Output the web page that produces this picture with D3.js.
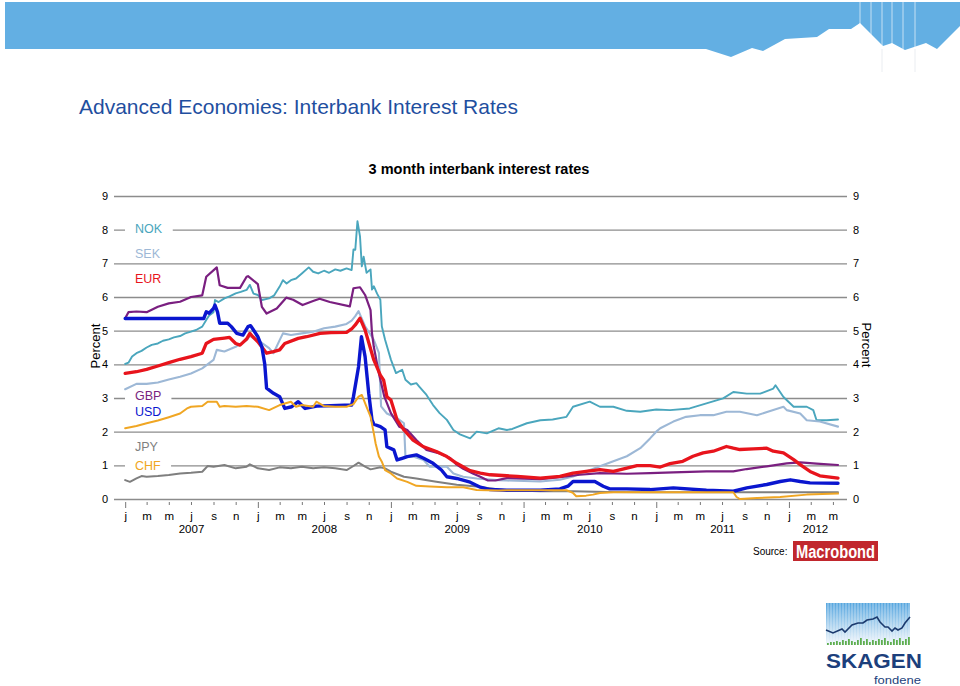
<!DOCTYPE html>
<html><head><meta charset="utf-8">
<script src="https://cdn.jsdelivr.net/npm/d3@7"></script>
<style>body{margin:0;background:#fff;} svg{display:block;font-family:"Liberation Sans",Arial,sans-serif;}</style>
</head><body><svg id="c" width="960" height="686"></svg>
<script>
// ---------- DATA (3 month interbank rates, percent) ----------
const NOK = [["2007-01-01",4.01],["2007-01-10",4.05],["2007-01-20",4.23],["2007-02-01",4.33],["2007-02-15",4.40],["2007-03-01",4.50],["2007-03-15",4.58],["2007-04-01",4.62],["2007-04-15",4.70],["2007-05-01",4.74],["2007-05-15",4.80],["2007-06-01",4.84],["2007-06-15",4.92],["2007-07-01",4.97],["2007-07-15",5.02],["2007-08-01",5.12],["2007-08-12",5.32],["2007-08-20",5.45],["2007-09-01",5.55],["2007-09-05",5.91],["2007-09-15",5.85],["2007-10-01",5.96],["2007-10-15",6.02],["2007-11-01",6.11],["2007-11-15",6.15],["2007-12-01",6.21],["2007-12-10",6.36],["2007-12-20",6.10],["2008-01-01",6.06],["2008-01-12",5.91],["2008-02-01",5.96],["2008-02-15",6.05],["2008-03-01",6.31],["2008-03-10",6.50],["2008-03-20",6.40],["2008-04-01",6.50],["2008-04-15",6.55],["2008-05-01",6.70],["2008-05-20",6.88],["2008-06-01",6.75],["2008-06-15",6.70],["2008-07-01",6.78],["2008-07-15",6.72],["2008-08-01",6.82],["2008-08-15",6.78],["2008-09-01",6.85],["2008-09-15",6.80],["2008-09-20",7.41],["2008-09-25",7.40],["2008-10-01",8.25],["2008-10-08",7.80],["2008-10-13",6.91],["2008-10-18",7.20],["2008-10-26",6.72],["2008-11-06",6.82],["2008-11-10",6.22],["2008-11-15",6.32],["2008-11-24",6.10],["2008-12-03",5.92],["2008-12-07",5.13],["2008-12-16",4.73],["2009-01-01",4.14],["2009-01-15",3.74],["2009-02-01",3.84],["2009-02-10",3.54],["2009-02-25",3.40],["2009-03-12",3.44],["2009-03-20",3.34],["2009-04-09",3.09],["2009-04-27",2.79],["2009-05-15",2.55],["2009-06-04",2.35],["2009-06-22",2.05],["2009-07-10",1.92],["2009-08-07",1.80],["2009-08-25",2.00],["2009-09-22",1.95],["2009-10-24",2.10],["2009-11-16",2.05],["2009-12-01",2.08],["2010-01-10",2.25],["2010-02-16",2.34],["2010-03-22",2.36],["2010-04-29",2.44],["2010-05-17",2.74],["2010-07-02",2.89],["2010-07-30",2.74],["2010-09-05",2.74],["2010-10-12",2.62],["2010-11-18",2.59],["2011-01-01",2.66],["2011-02-08",2.64],["2011-04-03",2.69],["2011-05-19",2.84],["2011-07-04",2.99],["2011-08-01",3.18],["2011-09-07",3.13],["2011-10-14",3.13],["2011-11-19",3.28],["2011-11-25",3.38],["2011-12-17",3.03],["2012-01-14",2.74],["2012-02-19",2.74],["2012-03-08",2.64],["2012-03-17",2.34],["2012-04-14",2.34],["2012-05-15",2.36]];

const SEK = [["2007-01-01",3.26],["2007-02-01",3.42],["2007-03-01",3.42],["2007-04-01",3.46],["2007-05-01",3.55],["2007-06-01",3.63],["2007-07-01",3.73],["2007-08-01",3.88],["2007-09-01",4.13],["2007-09-10",4.43],["2007-10-01",4.38],["2007-11-01",4.52],["2007-12-01",4.72],["2007-12-10",4.84],["2008-01-01",4.72],["2008-02-01",4.48],["2008-02-13",4.33],["2008-03-01",4.72],["2008-03-10",4.92],["2008-04-01",4.87],["2008-05-01",4.92],["2008-06-01",4.97],["2008-07-01",5.07],["2008-08-01",5.12],["2008-09-01",5.20],["2008-09-15",5.30],["2008-09-25",5.43],["2008-10-04",5.58],["2008-10-22",5.13],["2008-11-15",4.73],["2008-11-29",4.34],["2008-12-05",2.75],["2008-12-21",2.54],["2009-01-18",2.40],["2009-02-06",2.25],["2009-02-10",1.26],["2009-03-03",1.26],["2009-04-01",1.16],["2009-04-18",0.96],["2009-06-04",0.96],["2009-06-22",0.76],["2009-07-19",0.66],["2009-08-25",0.61],["2009-10-19",0.56],["2009-11-16",0.55],["2010-02-16",0.52],["2010-04-11",0.57],["2010-05-17",0.67],["2010-06-22",0.82],["2010-07-30",0.97],["2010-09-05",1.12],["2010-10-12",1.27],["2010-11-18",1.51],["2010-12-15",1.80],["2011-01-01",2.00],["2011-01-12",2.10],["2011-02-17",2.30],["2011-03-24",2.44],["2011-05-01",2.49],["2011-06-07",2.49],["2011-07-13",2.59],["2011-08-19",2.59],["2011-10-05",2.49],["2011-11-19",2.64],["2011-12-17",2.74],["2011-12-26",2.64],["2012-02-01",2.54],["2012-02-19",2.34],["2012-03-26",2.30],["2012-05-15",2.15]];

const EUR = [["2007-01-01",3.73],["2007-02-01",3.78],["2007-03-01",3.85],["2007-04-01",3.95],["2007-05-01",4.05],["2007-06-01",4.15],["2007-07-01",4.23],["2007-08-01",4.33],["2007-08-12",4.62],["2007-09-01",4.74],["2007-10-01",4.78],["2007-10-15",4.80],["2007-11-01",4.62],["2007-11-13",4.57],["2007-12-01",4.75],["2007-12-10",4.92],["2007-12-18",4.82],["2008-01-01",4.67],["2008-01-25",4.33],["2008-02-13",4.38],["2008-03-01",4.43],["2008-03-15",4.62],["2008-04-21",4.77],["2008-05-14",4.82],["2008-06-20",4.92],["2008-07-20",4.94],["2008-09-01",4.95],["2008-09-15",5.05],["2008-09-25",5.17],["2008-10-08",5.37],["2008-10-22",5.02],["2008-11-15",4.13],["2008-12-03",3.68],["2008-12-12",3.53],["2008-12-21",3.04],["2009-01-01",2.94],["2009-01-18",2.35],["2009-02-06",2.05],["2009-03-03",1.75],["2009-04-01",1.55],["2009-05-06",1.41],["2009-06-04",1.26],["2009-07-01",1.06],["2009-08-07",0.84],["2009-09-04",0.77],["2009-10-01",0.72],["2009-11-16",0.69],["2009-12-15",0.67],["2010-02-16",0.62],["2010-04-11",0.67],["2010-05-17",0.77],["2010-06-22",0.82],["2010-07-30",0.87],["2010-09-05",0.82],["2010-10-12",0.92],["2010-11-09",0.99],["2010-12-15",0.99],["2011-01-12",0.95],["2011-02-08",1.05],["2011-03-15",1.12],["2011-04-12",1.27],["2011-05-10",1.37],["2011-06-07",1.42],["2011-07-13",1.56],["2011-08-01",1.51],["2011-08-19",1.47],["2011-09-25",1.49],["2011-11-01",1.51],["2011-11-19",1.42],["2011-12-17",1.37],["2012-01-14",1.17],["2012-02-01",1.02],["2012-02-28",0.82],["2012-03-26",0.69],["2012-05-15",0.62]];

const GBP = [["2007-01-01",5.37],["2007-01-10",5.55],["2007-02-01",5.57],["2007-03-01",5.55],["2007-04-01",5.71],["2007-05-01",5.81],["2007-06-01",5.86],["2007-07-01",6.00],["2007-08-01",6.05],["2007-08-12",6.60],["2007-09-10",6.88],["2007-09-18",6.35],["2007-10-10",6.27],["2007-11-13",6.27],["2007-12-01",6.60],["2007-12-05",6.62],["2008-01-01",6.38],["2008-01-12",5.71],["2008-01-25",5.51],["2008-02-22",5.66],["2008-03-19",5.98],["2008-04-07",5.92],["2008-05-03",5.76],["2008-06-01",5.88],["2008-06-19",5.95],["2008-07-17",5.85],["2008-09-10",5.72],["2008-09-20",6.26],["2008-10-08",6.29],["2008-10-22",6.06],["2008-11-06",5.61],["2008-11-10",4.92],["2008-11-15",4.52],["2008-11-29",3.73],["2008-12-14",3.04],["2009-01-01",2.55],["2009-01-24",2.15],["2009-02-15",2.05],["2009-03-12",1.75],["2009-04-09",1.46],["2009-05-15",1.35],["2009-06-13",1.22],["2009-07-01",1.02],["2009-07-19",0.90],["2009-08-16",0.75],["2009-09-04",0.66],["2009-09-25",0.55],["2009-10-15",0.55],["2009-11-16",0.62],["2010-02-16",0.59],["2010-04-11",0.65],["2010-06-05",0.72],["2010-07-30",0.77],["2010-10-12",0.75],["2010-12-15",0.77],["2011-02-17",0.79],["2011-05-19",0.82],["2011-08-01",0.82],["2011-09-07",0.89],["2011-11-01",0.97],["2011-12-26",1.06],["2012-02-01",1.09],["2012-03-17",1.05],["2012-05-15",1.01]];

const USD = [["2007-01-01",5.36],["2007-08-05",5.36],["2007-08-12",5.56],["2007-08-20",5.52],["2007-09-01",5.66],["2007-09-05",5.76],["2007-09-12",5.56],["2007-09-18",5.22],["2007-10-10",5.22],["2007-10-20",5.12],["2007-11-04",4.92],["2007-11-21",4.87],["2007-12-05",5.12],["2007-12-12",5.15],["2007-12-20",5.02],["2008-01-01",4.82],["2008-01-12",4.52],["2008-01-20",4.00],["2008-01-25",3.29],["2008-02-13",3.14],["2008-03-01",3.04],["2008-03-15",2.69],["2008-04-03",2.74],["2008-04-21",2.89],["2008-05-10",2.69],["2008-06-11",2.76],["2008-09-15",2.79],["2008-09-20",3.04],["2008-10-04",3.93],["2008-10-12",4.82],["2008-10-22",4.23],["2008-11-01",3.14],["2008-11-10",2.35],["2008-11-15",2.22],["2008-12-03",2.15],["2008-12-16",2.05],["2008-12-21",1.55],["2009-01-09",1.46],["2009-01-18",1.16],["2009-02-01",1.21],["2009-02-15",1.26],["2009-03-12",1.31],["2009-04-01",1.21],["2009-04-27",1.06],["2009-05-20",0.86],["2009-06-04",0.66],["2009-07-01",0.61],["2009-08-07",0.50],["2009-09-04",0.35],["2009-10-01",0.28],["2009-11-16",0.26],["2010-02-16",0.26],["2010-04-11",0.30],["2010-05-03",0.38],["2010-05-17",0.52],["2010-07-16",0.52],["2010-08-08",0.38],["2010-08-26",0.30],["2010-10-12",0.30],["2010-12-15",0.28],["2011-02-17",0.33],["2011-05-19",0.26],["2011-08-01",0.23],["2011-09-07",0.33],["2011-11-01",0.43],["2011-12-08",0.52],["2012-01-05",0.57],["2012-02-01",0.52],["2012-02-28",0.48],["2012-05-15",0.47]];

const JPY = [["2007-01-01",0.56],["2007-01-14",0.51],["2007-02-01",0.61],["2007-02-15",0.68],["2007-03-01",0.66],["2007-04-01",0.68],["2007-05-01",0.71],["2007-06-01",0.76],["2007-07-01",0.78],["2007-08-01",0.81],["2007-08-16",0.98],["2007-09-01",0.96],["2007-10-01",1.01],["2007-11-01",0.91],["2007-12-01",0.96],["2007-12-10",1.03],["2008-01-01",0.91],["2008-02-01",0.86],["2008-03-01",0.94],["2008-04-01",0.91],["2008-05-01",0.96],["2008-06-01",0.91],["2008-07-01",0.94],["2008-08-01",0.91],["2008-09-01",0.86],["2008-09-20",0.98],["2008-10-04",1.08],["2008-10-22",0.96],["2008-11-06",0.88],["2008-12-03",0.94],["2008-12-16",0.91],["2009-01-01",0.81],["2009-02-06",0.66],["2009-03-12",0.61],["2009-05-06",0.51],["2009-07-01",0.42],["2009-08-25",0.37],["2009-10-24",0.28],["2009-11-16",0.26],["2010-02-16",0.23],["2010-05-17",0.23],["2010-08-17",0.21],["2010-12-15",0.20],["2012-05-15",0.20]];

const CHF = [["2007-01-01",2.10],["2007-02-01",2.17],["2007-03-01",2.25],["2007-04-01",2.33],["2007-05-01",2.43],["2007-06-01",2.54],["2007-06-20",2.69],["2007-07-01",2.74],["2007-08-01",2.76],["2007-08-16",2.89],["2007-09-10",2.89],["2007-09-18",2.74],["2007-10-01",2.76],["2007-11-01",2.74],["2007-12-01",2.76],["2008-01-01",2.74],["2008-02-01",2.64],["2008-03-01",2.79],["2008-04-01",2.89],["2008-04-15",2.74],["2008-05-01",2.79],["2008-06-01",2.74],["2008-06-10",2.89],["2008-07-01",2.76],["2008-08-01",2.74],["2008-09-01",2.74],["2008-09-20",2.82],["2008-10-04",3.04],["2008-10-13",3.09],["2008-10-26",2.74],["2008-11-06",2.45],["2008-11-15",1.95],["2008-11-20",1.65],["2008-11-29",1.26],["2008-12-07",1.11],["2008-12-16",0.86],["2009-01-01",0.76],["2009-01-18",0.61],["2009-02-15",0.51],["2009-03-12",0.39],["2009-04-18",0.37],["2009-06-04",0.35],["2009-07-19",0.35],["2009-08-25",0.27],["2009-10-24",0.25],["2009-11-16",0.26],["2010-02-16",0.26],["2010-04-29",0.26],["2010-05-17",0.18],["2010-05-26",0.08],["2010-06-22",0.10],["2010-07-11",0.13],["2010-07-30",0.18],["2010-09-05",0.20],["2011-08-01",0.20],["2011-08-10",0.06],["2011-08-19",0.00],["2011-10-05",0.03],["2011-12-08",0.06],["2012-02-19",0.13],["2012-05-15",0.16]];

const seriesNames = ["NOK","SEK","EUR","GBP","USD","JPY","CHF"];
const yTickValues = [0,1,2,3,4,5,6,7,8,9];
const monthLetters = ["j","f","m","a","m","j","j","a","s","o","n","d"];
const yearLabels = ["2007","2008","2009","2010","2011","2012"];

// ---------- STYLE ----------
const seriesData = {NOK, SEK, EUR, GBP, USD, JPY, CHF};
const style = {
  NOK:{color:"#4aa6bd", width:1.9},
  SEK:{color:"#9db8d6", width:2.1},
  EUR:{color:"#e8141c", width:3.3},
  GBP:{color:"#7a1f80", width:2.2},
  USD:{color:"#0a16cf", width:3.4},
  JPY:{color:"#7f7f7f", width:2},
  CHF:{color:"#f0a623", width:2}
};
const drawOrder = ["NOK","SEK","JPY","GBP","EUR","USD","CHF"];
const legendPos = {NOK:233, SEK:258, EUR:283, GBP:400, USD:416, JPY:451, CHF:470};

const svg = d3.select("#c");
const parse = d3.timeParse("%Y-%m-%d");

// ---------- HEADER ----------
svg.append("polygon")
  .attr("points","5,2 960,2 960,26 937,49 926,43 905,50 892,43 883,46 860,23 851,29 829,29 817,37 785,39 763,51 752,48 731,57 706,49 5,49")
  .attr("fill","#63afe3");
[860,871,882,892,903,915].forEach(xx=>{
  svg.append("line").attr("x1",xx).attr("x2",xx).attr("y1",2).attr("y2",49).attr("stroke","#ffffff").attr("stroke-width",0.8).attr("opacity",0.8);
});
[882,915].forEach(xx=>{
  svg.append("line").attr("x1",xx).attr("x2",xx).attr("y1",49).attr("y2",72).attr("stroke","#e4e8ee").attr("stroke-width",0.8);
});

svg.append("text").attr("x",79).attr("y",114).attr("font-size",21).attr("fill","#1f4f9f")
  .text("Advanced Economies: Interbank Interest Rates");

svg.append("text").attr("x",479).attr("y",174).attr("text-anchor","middle").attr("font-size",14.5)
  .attr("font-weight","bold").attr("fill","#000").text("3 month interbank interest rates");

// ---------- SCALES ----------
const left = 114, right = 847;
const x = d3.scaleTime().domain([new Date(2006,11,4), new Date(2012,4,26)]).range([115, 842]);
const y = d3.scaleLinear().domain([0,9]).range([499,196]);

// gridlines + left axis
const gl = svg.append("g").attr("transform",`translate(${left},0)`)
  .call(d3.axisLeft(y).tickValues(yTickValues).tickSize(-(right-left)).tickPadding(6).tickFormat(d3.format("d")));
gl.select(".domain").remove();
gl.selectAll(".tick line").attr("stroke","#8c8c8c").attr("stroke-width",1.3);
gl.selectAll(".tick text").attr("font-size",11).attr("fill","#000").attr("font-family","Liberation Sans, Arial, sans-serif");

const gr = svg.append("g").attr("transform",`translate(${right},0)`)
  .call(d3.axisRight(y).tickValues(yTickValues).tickSize(0).tickPadding(6).tickFormat(d3.format("d")));
gr.select(".domain").remove();
gr.selectAll(".tick text").attr("font-size",11).attr("fill","#000").attr("font-family","Liberation Sans, Arial, sans-serif");

svg.append("text").attr("transform","translate(100,346) rotate(-90)").attr("text-anchor","middle")
  .attr("font-size",13).text("Percent");
svg.append("text").attr("transform","translate(862,345) rotate(90)").attr("text-anchor","middle")
  .attr("font-size",13).text("Percent");

// x axis
const tickDates = d3.timeMonth.every(2).range(new Date(2007,0,1), new Date(2012,5,1));
const gx = svg.append("g").attr("transform","translate(0,502)")
  .call(d3.axisBottom(x).tickValues(tickDates).tickSize(3).tickPadding(7)
    .tickFormat(d=>monthLetters[d.getMonth()]));
gx.select(".domain").remove();
gx.selectAll(".tick line").attr("stroke","#777").attr("stroke-width",1)
  .attr("y2",d=>d.getMonth()===0?6:3);
gx.selectAll(".tick text").attr("font-size",11.5).attr("fill","#000").attr("font-family","Liberation Sans, Arial, sans-serif");

const xEnd = x.domain()[1];
svg.append("g").selectAll("text").data(yearLabels).join("text")
  .attr("x",d=>{
    const a = new Date(+d,0,1), b = new Date(+d+1,0,1);
    return (x(a) + x(b < xEnd ? b : xEnd)) / 2;
  }).attr("y",533).attr("text-anchor","middle")
  .attr("font-size",11.5).text(d=>d);

// ---------- LEGEND (under the lines, masking gridlines) ----------
const lg = svg.append("g");
seriesNames.forEach(k=>{
  const g = lg.append("g");
  const t = g.append("text").attr("x",135).attr("y",legendPos[k]).attr("font-size",12.5)
    .attr("fill",style[k].color).text(k);
  const bb = t.node().getBBox();
  g.insert("rect","text").attr("x",bb.x-10).attr("y",bb.y).attr("width",bb.width+20).attr("height",bb.height).attr("fill","#fff");
});

// ---------- LINES ----------
const line = d3.line().x(d=>x(parse(d[0]))).y(d=>y(d[1]));
svg.append("g").selectAll("path").data(drawOrder).join("path")
  .attr("d",k=>line(seriesData[k]))
  .attr("fill","none").attr("stroke",k=>style[k].color).attr("stroke-width",k=>style[k].width)
  .attr("stroke-linejoin","round").attr("stroke-linecap","round");

// ---------- SOURCE ----------
svg.append("text").attr("x",753).attr("y",555).attr("font-size",10).text("Source:");
svg.append("rect").attr("x",793).attr("y",541).attr("width",85).attr("height",20).attr("fill","#c1272d");
svg.append("text").attr("x",796).attr("y",558).attr("font-size",18).attr("font-weight","bold")
  .attr("font-family","'Liberation Sans Narrow','Arial Narrow',sans-serif").attr("fill","#fff")
  .attr("textLength",79).attr("lengthAdjust","spacingAndGlyphs").text("Macrobond");

// ---------- SKAGEN LOGO ----------
const defs = svg.append("defs");
const grad = defs.append("linearGradient").attr("id","lg1").attr("x1",0).attr("y1",0).attr("x2",0).attr("y2",1);
grad.append("stop").attr("offset","0%").attr("stop-color","#56a6df");
grad.append("stop").attr("offset","100%").attr("stop-color","#f4f8fc");
svg.append("rect").attr("x",826).attr("y",603).attr("width",84).attr("height",42).attr("fill","url(#lg1)");
d3.range(828,910,3).forEach(xx=>{
  svg.append("line").attr("x1",xx).attr("x2",xx).attr("y1",603).attr("y2",645).attr("stroke","#fff").attr("stroke-width",0.7).attr("opacity",0.7);
});
const logoBars = [2,3,3,4,3,5,4,6,4,3,5,7,4,6,3,5,4,6,5,7,4,3,6,5,7,4,6,8];
logoBars.forEach((h,i)=>{
  svg.append("rect").attr("x",827+i*3).attr("y",645-h).attr("width",1.8).attr("height",h).attr("fill","#5fae4f");
});
const logoLine = [[826,630],[833,633],[842,629],[845,632],[852,625],[858,623],[863,623],[867,620],[873,619],[877,617],[880,622],[885,627],[888,627],[892,631],[895,628],[898,630],[902,628],[905,623],[910,617]];
svg.append("path").attr("d",d3.line()(logoLine)).attr("fill","none").attr("stroke","#1b3a6e").attr("stroke-width",1.6);
svg.append("text").attr("x",826).attr("y",668).attr("font-size",21).attr("font-weight","bold")
  .attr("fill","#1c3f7c").attr("textLength",96).attr("lengthAdjust","spacingAndGlyphs").text("SKAGEN");
svg.append("text").attr("x",874).attr("y",684).attr("font-size",11)
  .attr("fill","#1c3f7c").attr("textLength",47).attr("lengthAdjust","spacingAndGlyphs").text("fondene");
</script></body></html>
